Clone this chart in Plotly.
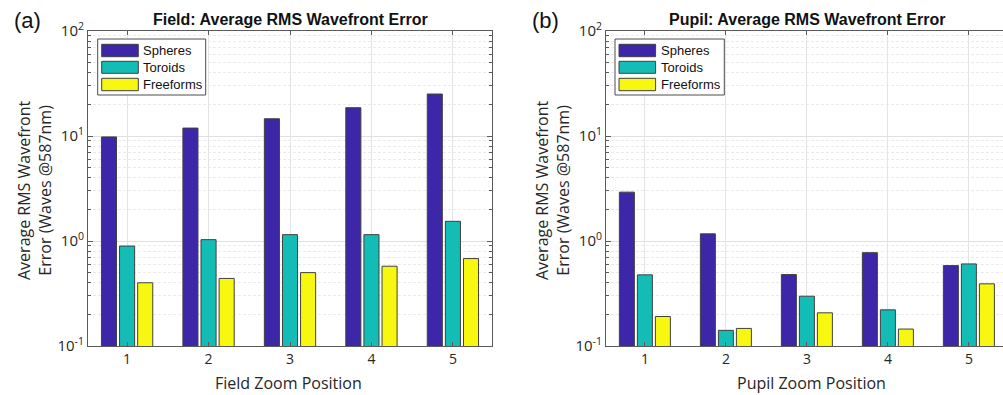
import plotly.graph_objects as go

W, H = 1003, 395

positions = [1, 2, 3, 4, 5]
series_names = ["Spheres", "Toroids", "Freeforms"]
series_colors = ["#3e26a8", "#13bdb5", "#f7f70f"]

field_spheres = [9.8, 11.9, 14.6, 18.6, 25.1]
field_toroids = [0.895, 1.03, 1.15, 1.15, 1.54]
field_freeforms = [0.40, 0.44, 0.50, 0.575, 0.68]

pupil_spheres = [2.92, 1.17, 0.479, 0.774, 0.583]
pupil_toroids = [0.476, 0.141, 0.298, 0.221, 0.605]
pupil_freeforms = [0.191, 0.147, 0.207, 0.145, 0.391]

ytick_vals = [0.1, 1, 10, 100]
ytick_text = ["10<sup>-1</sup>", "10<sup>0</sup>", "10<sup>1</sup>", "10<sup>2</sup>"]
minor_vals = [m * d for d in (0.1, 1, 10) for m in range(2, 10)]

titles = ["Field: Average RMS Wavefront Error", "Pupil: Average RMS Wavefront Error"]
xtitles = ["Field Zoom Position", "Pupil Zoom Position"]
ytitle = "Average RMS Wavefront<br>Error (Waves @587nm)"
panel_labels = ["(a)", "(b)"]


def px(x):
    return x / W


def py(y):
    return 1 - y / H


fig = go.Figure()

field_data = [field_spheres, field_toroids, field_freeforms]
pupil_data = [pupil_spheres, pupil_toroids, pupil_freeforms]

for name, color, vals in zip(series_names, series_colors, field_data):
    fig.add_trace(go.Bar(x=positions, y=vals, name=name, marker=dict(color=color, line=dict(color="#404040", width=1)),
                         xaxis="x", yaxis="y", showlegend=False))
for name, color, vals in zip(series_names, series_colors, pupil_data):
    fig.add_trace(go.Bar(x=positions, y=vals, name=name, marker=dict(color=color, line=dict(color="#404040", width=1)),
                         xaxis="x2", yaxis="y2", showlegend=False))

axis_color = "#5a5a5a"
tick_font = dict(family="Open Sans", size=14, color="#262626")

common_x = dict(tickvals=positions, ticks="inside", ticklen=4, tickcolor=axis_color, showline=True,
                linecolor=axis_color, linewidth=1, showgrid=True, gridcolor="#e4e4e4", zeroline=False,
                tickfont=tick_font, fixedrange=True, automargin=False)
common_y = dict(type="log", range=[-1, 2], tickvals=ytick_vals, ticktext=ytick_text, ticks="inside", ticklen=5,
                tickcolor=axis_color, showline=True, linecolor=axis_color, linewidth=1, showgrid=True,
                gridcolor="#e0e0e0", zeroline=False, tickfont=dict(family="Open Sans", size=15, color="#262626"),
                minor=dict(tickvals=minor_vals, ticks="inside", ticklen=3, tickcolor=axis_color, showgrid=True,
                           gridcolor="#ebebeb", griddash="3px,2px", gridwidth=1), fixedrange=True, automargin=False)

fig.update_layout(
    width=W, height=H, margin=dict(l=0, r=0, t=0, b=0, pad=0, autoexpand=False),
    paper_bgcolor="white", plot_bgcolor="white",
    barmode="group", bargap=0.333, bargroupgap=0.167,
    xaxis=dict(domain=[px(88), px(492)], range=[0.52, 5.48], anchor="y", mirror="ticks", **common_x),
    yaxis=dict(domain=[py(346), py(31)], anchor="x", mirror="ticks", **common_y),
    xaxis2=dict(domain=[px(606), 1.0], range=[0.52, 0.52 + 397 / 81], anchor="y2", mirror="ticks", **common_x),
    yaxis2=dict(domain=[py(346), py(31)], anchor="x2", mirror=False, **common_y),
    showlegend=False,
)

annotations = []
shapes = []
label_font = dict(family="Open Sans", size=16, color="#262626")
title_font = dict(family="Arial", size=16, color="#111111")

panels = [
    dict(cx=290, xl=288, ylab_x=34, plab_x=27, legend=(97.7, 205.7)),
    dict(cx=807, xl=811, ylab_x=552, plab_x=545, legend=(615, 724.3)),
]

for i, p in enumerate(panels):
    annotations.append(dict(text="<b>" + titles[i] + "</b>", x=px(p["cx"]), y=py(19), xref="paper", yref="paper",
                            showarrow=False, font=title_font, xanchor="center", yanchor="middle"))
    annotations.append(dict(text=xtitles[i], x=px(p["xl"]), y=py(383), xref="paper", yref="paper",
                            showarrow=False, font=label_font, xanchor="center", yanchor="middle"))
    annotations.append(dict(text=panel_labels[i], x=px(p["plab_x"]), y=py(21), xref="paper", yref="paper",
                            showarrow=False, font=dict(family="Arial", size=22, color="#111111"),
                            xanchor="center", yanchor="middle"))
    annotations.append(dict(text=ytitle, x=px(p["ylab_x"]), y=py(190), xref="paper", yref="paper", textangle=-90,
                            showarrow=False, font=label_font, xanchor="center", yanchor="middle"))
    lx0, lx1 = p["legend"]
    shapes.append(dict(type="rect", xref="paper", yref="paper", x0=px(lx0), x1=px(lx1), y0=py(95), y1=py(39),
                       line=dict(color="#4d4d4d", width=1), fillcolor="white", layer="above"))
    rows = [(44.3, 56.7), (61.3, 73.3), (78.3, 90.7)]
    for (y0, y1), name, color in zip(rows, series_names, series_colors):
        shapes.append(dict(type="rect", xref="paper", yref="paper", x0=px(lx0 + 4), x1=px(lx0 + 40.6), y0=py(y1), y1=py(y0),
                           line=dict(color="#404040", width=1), fillcolor=color, layer="above"))
        annotations.append(dict(text=name, x=px(lx0 + 43.5), y=py((y0 + y1) / 2), xref="paper", yref="paper",
                                showarrow=False, xanchor="left", yanchor="middle",
                                font=dict(family="Arial", size=13, color="#111111")))

fig.update_layout(annotations=annotations, shapes=shapes)

fig.write_html("out.html")
